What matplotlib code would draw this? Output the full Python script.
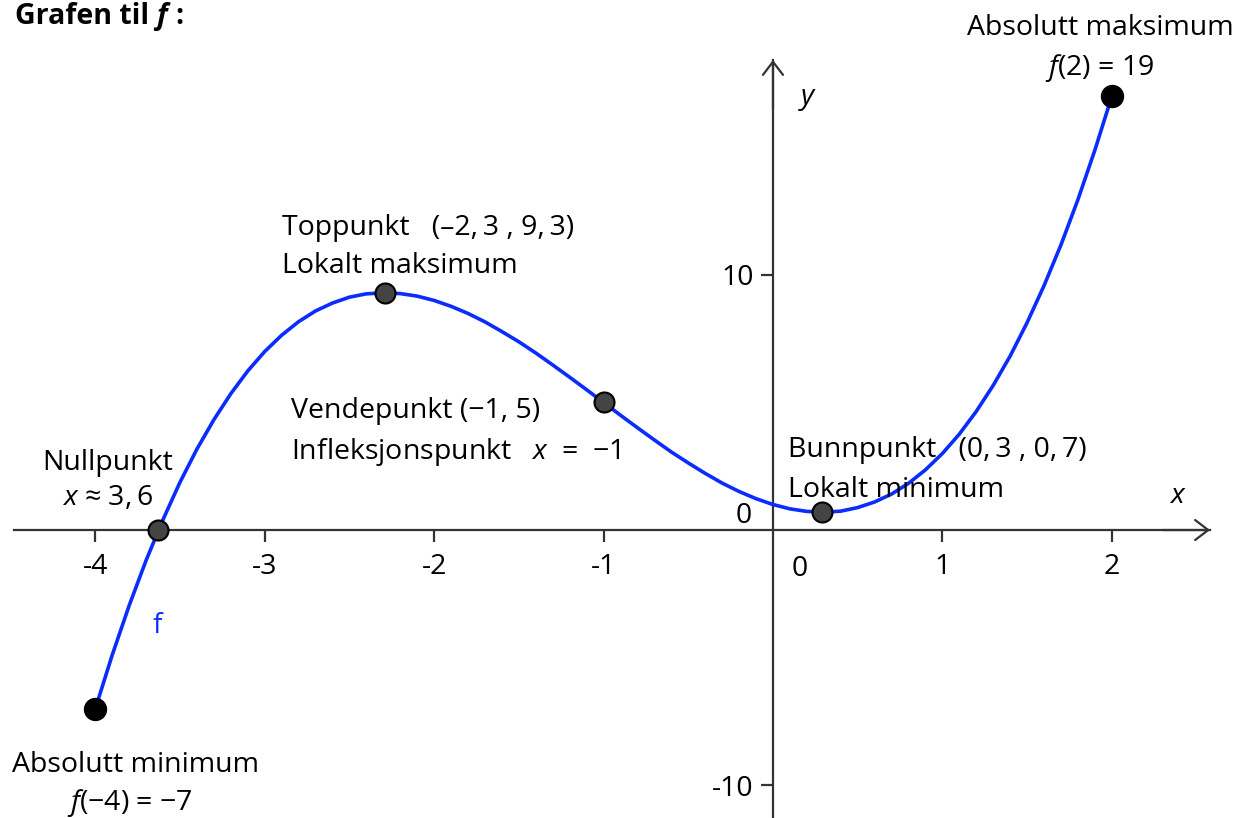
import matplotlib

matplotlib.use("Agg")
import matplotlib.pyplot as plt

# f(x), step 0.1 from -4 to 2
x_vals = [-4.0, -3.9, -3.8, -3.7, -3.6, -3.5, -3.4, -3.3, -3.2, -3.1,
          -3.0, -2.9, -2.8, -2.7, -2.6, -2.5, -2.4, -2.3, -2.2, -2.1,
          -2.0, -1.9, -1.8, -1.7, -1.6, -1.5, -1.4, -1.3, -1.2, -1.1,
          -1.0, -0.9, -0.8, -0.7, -0.6, -0.5, -0.4, -0.3, -0.2, -0.1,
          0.0, 0.1, 0.2, 0.3, 0.4, 0.5, 0.6, 0.7, 0.8, 0.9,
          1.0, 1.1, 1.2, 1.3, 1.4, 1.5, 1.6, 1.7, 1.8, 1.9, 2.0]
y_vals = [-7.0, -4.89, -2.95, -1.18, 0.42, 1.88, 3.18, 4.33, 5.35, 6.24,
          7.0, 7.64, 8.17, 8.59, 8.9, 9.13, 9.26, 9.3, 9.27, 9.17,
          9.0, 8.77, 8.49, 8.16, 7.78, 7.38, 6.94, 6.47, 5.99, 5.5,
          5.0, 4.5, 4.01, 3.53, 3.06, 2.63, 2.22, 1.84, 1.51, 1.23,
          1.0, 0.83, 0.73, 0.7, 0.74, 0.88, 1.1, 1.41, 1.83, 2.36,
          3.0, 3.76, 4.65, 5.67, 6.82, 8.13, 9.58, 11.18, 12.95, 14.89, 17.0]

# marked points: endpoints (black) and the others (grey)
end_x = [-4.0, 2.0]
end_y = [-7.0, 17.0]
mid_x = [-3.63, -2.29, -1.0, 0.29]
mid_y = [0.0, 9.3, 5.0, 0.7]

x_ticks = [-4, -3, -2, -1, 1, 2]
x_tick_labels = ["-4", "-3", "-2", "-1", "1", "2"]
y_ticks = [-10, 10]
y_tick_labels = ["-10", "10"]

W, H = 1239, 818
AXIS = "#333333"
BLUE = "#0a2cff"
FS = 20.5
TS = "\u2009"  # thin space after decimal commas

plt.rcParams["font.family"] = ["Open Sans", "DejaVu Sans"]
plt.rcParams["mathtext.fontset"] = "custom"
plt.rcParams["mathtext.rm"] = "Open Sans"
plt.rcParams["mathtext.it"] = "Open Sans:italic"

fig = plt.figure(figsize=(W / 100, H / 100), dpi=100)
ax = fig.add_axes([0, 0, 1, 1])
ax.set_xlim(-4.563, 2.751)
ax.set_ylim(-11.29, 20.78)

for side in ("top", "right"):
    ax.spines[side].set_visible(False)
ax.spines["bottom"].set_position(("data", 0))
ax.spines["left"].set_position(("data", 0))
ax.spines["bottom"].set_bounds(-4.48, 2.58)
ax.spines["left"].set_bounds(-11.29, 18.43)
for side in ("bottom", "left"):
    ax.spines[side].set_color(AXIS)
    ax.spines[side].set_linewidth(1.6)

arrow = dict(arrowstyle="->,head_length=0.47,head_width=0.36", lw=1.6,
             color=AXIS, mutation_scale=20, shrinkA=0, shrinkB=0)
ax.annotate("", xy=(2.58, 0), xytext=(2.3, 0), arrowprops=arrow)
ax.annotate("", xy=(0, 18.43), xytext=(0, 16.5), arrowprops=arrow)

ax.set_xticks(x_ticks, x_tick_labels)
ax.set_yticks(y_ticks, y_tick_labels)
ax.tick_params(axis="both", direction="out", length=8.5, width=1.6,
               color=AXIS, labelsize=FS, labelcolor="black")
ax.tick_params(axis="x", pad=8)
ax.tick_params(axis="y", pad=5.5)

ax.plot(x_vals, y_vals, color=BLUE, lw=2.6, zorder=3, solid_capstyle="butt")
ax.plot(mid_x, mid_y, "o", ms=14.4, mfc="#444444", mec="black", mew=1.5, zorder=4)
ax.plot(end_x, end_y, "o", ms=15.8, mfc="black", mec="black", zorder=4)


def put(px, py, s, **kw):
    kw.setdefault("fontsize", FS)
    kw.setdefault("va", "baseline")
    return ax.text(px / W, 1 - py / H, s, transform=ax.transAxes, **kw)


# title at the top edge: "Grafen til f :"
title = put(15, 24, "Grafen til", fontweight="bold")
title_f = ax.annotate("f", xy=(1, 0), xycoords=title, xytext=(5, 0),
                      textcoords="offset points", va="bottom", ha="left",
                      fontsize=FS, fontweight="bold", fontstyle="italic")
ax.annotate(":", xy=(1, 0), xycoords=title_f, xytext=(6, 0),
            textcoords="offset points", va="bottom", ha="left",
            fontsize=FS, fontweight="bold")

put(1100, 35, "Absolutt maksimum", ha="center")
put(1100, 75, "$f$(2) = 19", ha="center")
put(808, 104, "$y$", ha="center")

put(282, 235, f"Toppunkt   (\u20132,{TS}3 , 9,{TS}3)")
put(282, 273, "Lokalt maksimum")

put(291, 418, "Vendepunkt (\u22121, 5)")
put(291, 459, "Infleksjonspunkt   $x$  =  \u22121")

put(108, 470, "Nullpunkt", ha="center")
put(108, 505, f"$x$ \u2248 3,{TS}6", ha="center")
put(157, 633, "f", ha="center", color=BLUE)

put(788, 457, f"Bunnpunkt   (0,{TS}3 , 0,{TS}7)")
put(788, 497, "Lokalt minimum")
put(1178, 503, "$x$", ha="center")

put(752, 523, "0", ha="right")
put(800, 576, "0", ha="center")

put(12, 772, "Absolutt minimum")
put(130, 810, "$f$(\u22124) = \u22127", ha="center")

fig.savefig("out.png", dpi=100)
